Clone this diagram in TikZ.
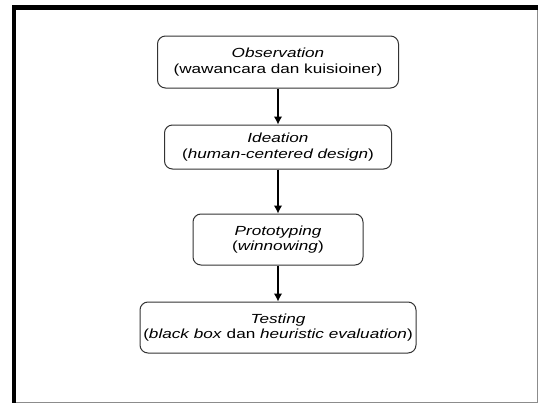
\documentclass[tikz,border=0pt]{standalone}
\usepackage{fontspec}
\setmainfont[FakeStretch=1.3]{Liberation Sans}
\usepackage{tikz}
\usetikzlibrary{positioning,arrows.meta}

\begin{document}
\begin{tikzpicture}[
    x=1pt, y=1pt,
    >={Latex[length=8pt,width=8.5pt]},
    node distance=36pt,
    block/.style={rectangle, draw=black!80, line width=1pt, rounded corners=8pt, align=center, inner sep=0pt, font=\fontsize{13.2}{15.3}\selectfont},
    arrow/.style={->, line width=1.2pt}
]
\useasboundingbox (0,0) rectangle (539,-405);

% Frame
\draw[black!45, line width=1pt] (14,-8) rectangle (537,-402);
\draw[black, line width=5pt] (12,-7.5) -- (538,-7.5);
\draw[black, line width=4pt] (14,-5) -- (14,-403);

% Steps
\node[block, minimum width=241pt, minimum height=52pt] at (278,-62) (obs) {\textit{Observation}\\(wawancara dan kuisioiner)};
\node[block, minimum width=227pt, minimum height=44pt, below=36pt of obs] (idea) {\textit{Ideation}\\(\textit{human-centered design})};
\node[block, minimum width=170pt, minimum height=51pt, below=44pt of idea] (proto) {\textit{Prototyping}\\(\textit{winnowing})};
\node[block, minimum width=276pt, minimum height=51pt, below=36pt of proto] (test) {\textit{Testing}\\(\textit{black box} dan \textit{heuristic evaluation})};

% Arrows
\draw[arrow] (obs) -- (idea);
\draw[arrow] (idea) -- (proto);
\draw[arrow] (proto) -- (test);

\end{tikzpicture}
\end{document}
